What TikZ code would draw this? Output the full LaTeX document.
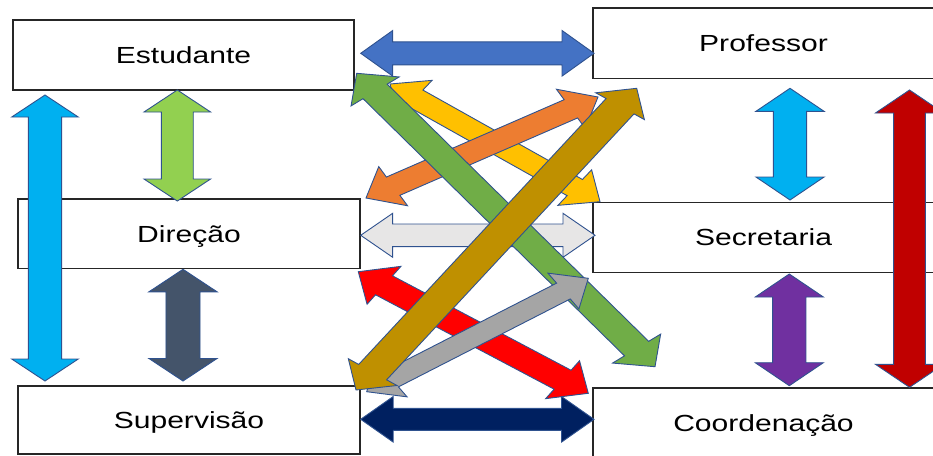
\documentclass[tikz,border=0pt]{standalone}
\usepackage{fontspec}
\setmainfont{Liberation Sans}
\usetikzlibrary{calc}
\definecolor{arrline}{RGB}{47,82,143}
\definecolor{cBlue}{HTML}{4472C4}
\definecolor{cLGreen}{HTML}{92D050}
\definecolor{cCyan}{HTML}{00B0F0}
\definecolor{cSlate}{HTML}{44546A}
\definecolor{cPurple}{HTML}{7030A0}
\definecolor{cDRed}{HTML}{C00000}
\definecolor{cLGray}{HTML}{E7E6E6}
\definecolor{cNavy}{HTML}{002060}
\definecolor{cGreen}{HTML}{70AD47}
\definecolor{cYellow}{HTML}{FFC000}
\definecolor{cOrange}{HTML}{ED7D31}
\definecolor{cGold}{HTML}{BF9000}
\definecolor{cRed}{HTML}{FF0000}
\definecolor{cGray}{HTML}{A5A5A5}
\def\kx{1.3}
\newcommand\lbl[1]{\scalebox{1.29}[1]{#1}}
% #1 start, #2 end, #3 shaft half width, #4 head half width, #5 head length, #6 colour
\newcommand\blockarrow[6]{%
  \filldraw[barrow, fill=#6] let \p1=(#1), \p2=(#2),
    \n1={(\x2-\x1)/\kx}, \n2={\y2-\y1}, \n3={veclen(\n1,\n2)},
    \n4={\n1/\n3}, \n5={\n2/\n3} in
    (\p1)
    -- ({\x1+\kx*(#5*\n4-#4*\n5)}, {\y1+#5*\n5+#4*\n4})
    -- ({\x1+\kx*(#5*\n4-#3*\n5)}, {\y1+#5*\n5+#3*\n4})
    -- ({\x1+\kx*((\n3-#5)*\n4-#3*\n5)}, {\y1+(\n3-#5)*\n5+#3*\n4})
    -- ({\x1+\kx*((\n3-#5)*\n4-#4*\n5)}, {\y1+(\n3-#5)*\n5+#4*\n4})
    -- (\p2)
    -- ({\x1+\kx*((\n3-#5)*\n4+#4*\n5)}, {\y1+(\n3-#5)*\n5-#4*\n4})
    -- ({\x1+\kx*((\n3-#5)*\n4+#3*\n5)}, {\y1+(\n3-#5)*\n5-#3*\n4})
    -- ({\x1+\kx*(#5*\n4+#3*\n5)}, {\y1+#5*\n5-#3*\n4})
    -- ({\x1+\kx*(#5*\n4+#4*\n5)}, {\y1+#5*\n5-#4*\n4})
    -- cycle;}
\tikzset{
  box/.style={draw=black!85, line width=1.4pt, minimum width=341pt, inner sep=0pt,
    font=\fontsize{23.3}{28}\selectfont, text height=16.7pt, text depth=0pt},
  barrow/.style={draw=arrline, line width=0.9pt, line join=miter}
}
\begin{document}
\begin{tikzpicture}[x=1pt, y=-1pt]
\useasboundingbox (0,0) rectangle (933,455);
% boxes
\node[box, minimum height=70pt] (est) at (183.5,55) {\lbl{Estudante}};
\node[box, minimum height=69.5pt, minimum width=342pt] (dir) at (189,233.75) {\lbl{Direção}};
\node[box, minimum height=68pt, minimum width=342pt] (sup) at (189,420) {\lbl{Supervisão}};
\node[box, minimum height=70.5pt] (prof) at (763.5,43.25) {\lbl{Professor}};
\node[box, minimum height=70pt] (sec) at (763.5,237.5) {\lbl{Secretaria}};
\node[box, minimum height=70pt] (coord) at (763.5,423) {\lbl{Coordenação}};
% arrow ends
\coordinate (vg1) at (177.3,90);   \coordinate (vg2) at (177.3,201);
\coordinate (vc1) at (45,95);      \coordinate (vc2) at (45,381);
\coordinate (vs1) at (183,269.3);  \coordinate (vs2) at (183,381);
\coordinate (vr1) at (790,88.3);   \coordinate (vr2) at (790,200);
\coordinate (vp1) at (789.3,274);  \coordinate (vp2) at (789.3,385.7);
\coordinate (vd1) at (909.5,90);   \coordinate (vd2) at (909.5,387.3);
\coordinate (hb1) at (360.7,53.3); \coordinate (hb2) at (594,53.3);
\coordinate (hl1) at (360.7,235.3);\coordinate (hl2) at (595,235.3);
\coordinate (hn1) at (360.7,419.3);\coordinate (hn2) at (594,419.3);
\coordinate (dg1) at (356.7,73.3); \coordinate (dg2) at (655,366.7);
\coordinate (dy1) at (390,84);     \coordinate (dy2) at (600,201.7);
\coordinate (do1) at (366,198);    \coordinate (do2) at (598,97);
\coordinate (dk1) at (356,390);    \coordinate (dk2) at (636.7,88.3);
\coordinate (dr1) at (358.3,271.7);\coordinate (dr2) at (588.3,393.3);
\coordinate (da1) at (366.7,391.7);\coordinate (da2) at (588.3,278.3);
% vertical arrows
\blockarrow{vg1}{vg2}{12.3}{25.6}{22}{cLGreen}
\blockarrow{vc1}{vc2}{12.8}{25.6}{22}{cCyan}
\blockarrow{vs1}{vs2}{13.1}{26.2}{22.5}{cSlate}
\blockarrow{vr1}{vr2}{12.8}{26.2}{23}{cCyan}
\blockarrow{vp1}{vp2}{12.8}{26.2}{23}{cPurple}
\blockarrow{vd1}{vd2}{12.2}{26.2}{23}{cDRed}
% horizontal arrows
\blockarrow{hb1}{hb2}{11.5}{22.8}{24.6}{cBlue}
\blockarrow{hn1}{hn2}{11}{22.8}{25}{cNavy}
\blockarrow{hl1}{hl2}{11.3}{22}{24.6}{cLGray}
% diagonal arrows
\blockarrow{dy1}{dy2}{10}{22}{24}{cYellow}
\blockarrow{do1}{do2}{10.5}{22.5}{24}{cOrange}
\blockarrow{dg1}{dg2}{11.8}{23.5}{23}{cGreen}
\blockarrow{dr1}{dr2}{11.5}{23}{24}{cRed}
\blockarrow{da1}{da2}{9.5}{21.5}{23}{cGray}
\blockarrow{dk1}{dk2}{13.2}{23}{22}{cGold}
\end{tikzpicture}
\end{document}
